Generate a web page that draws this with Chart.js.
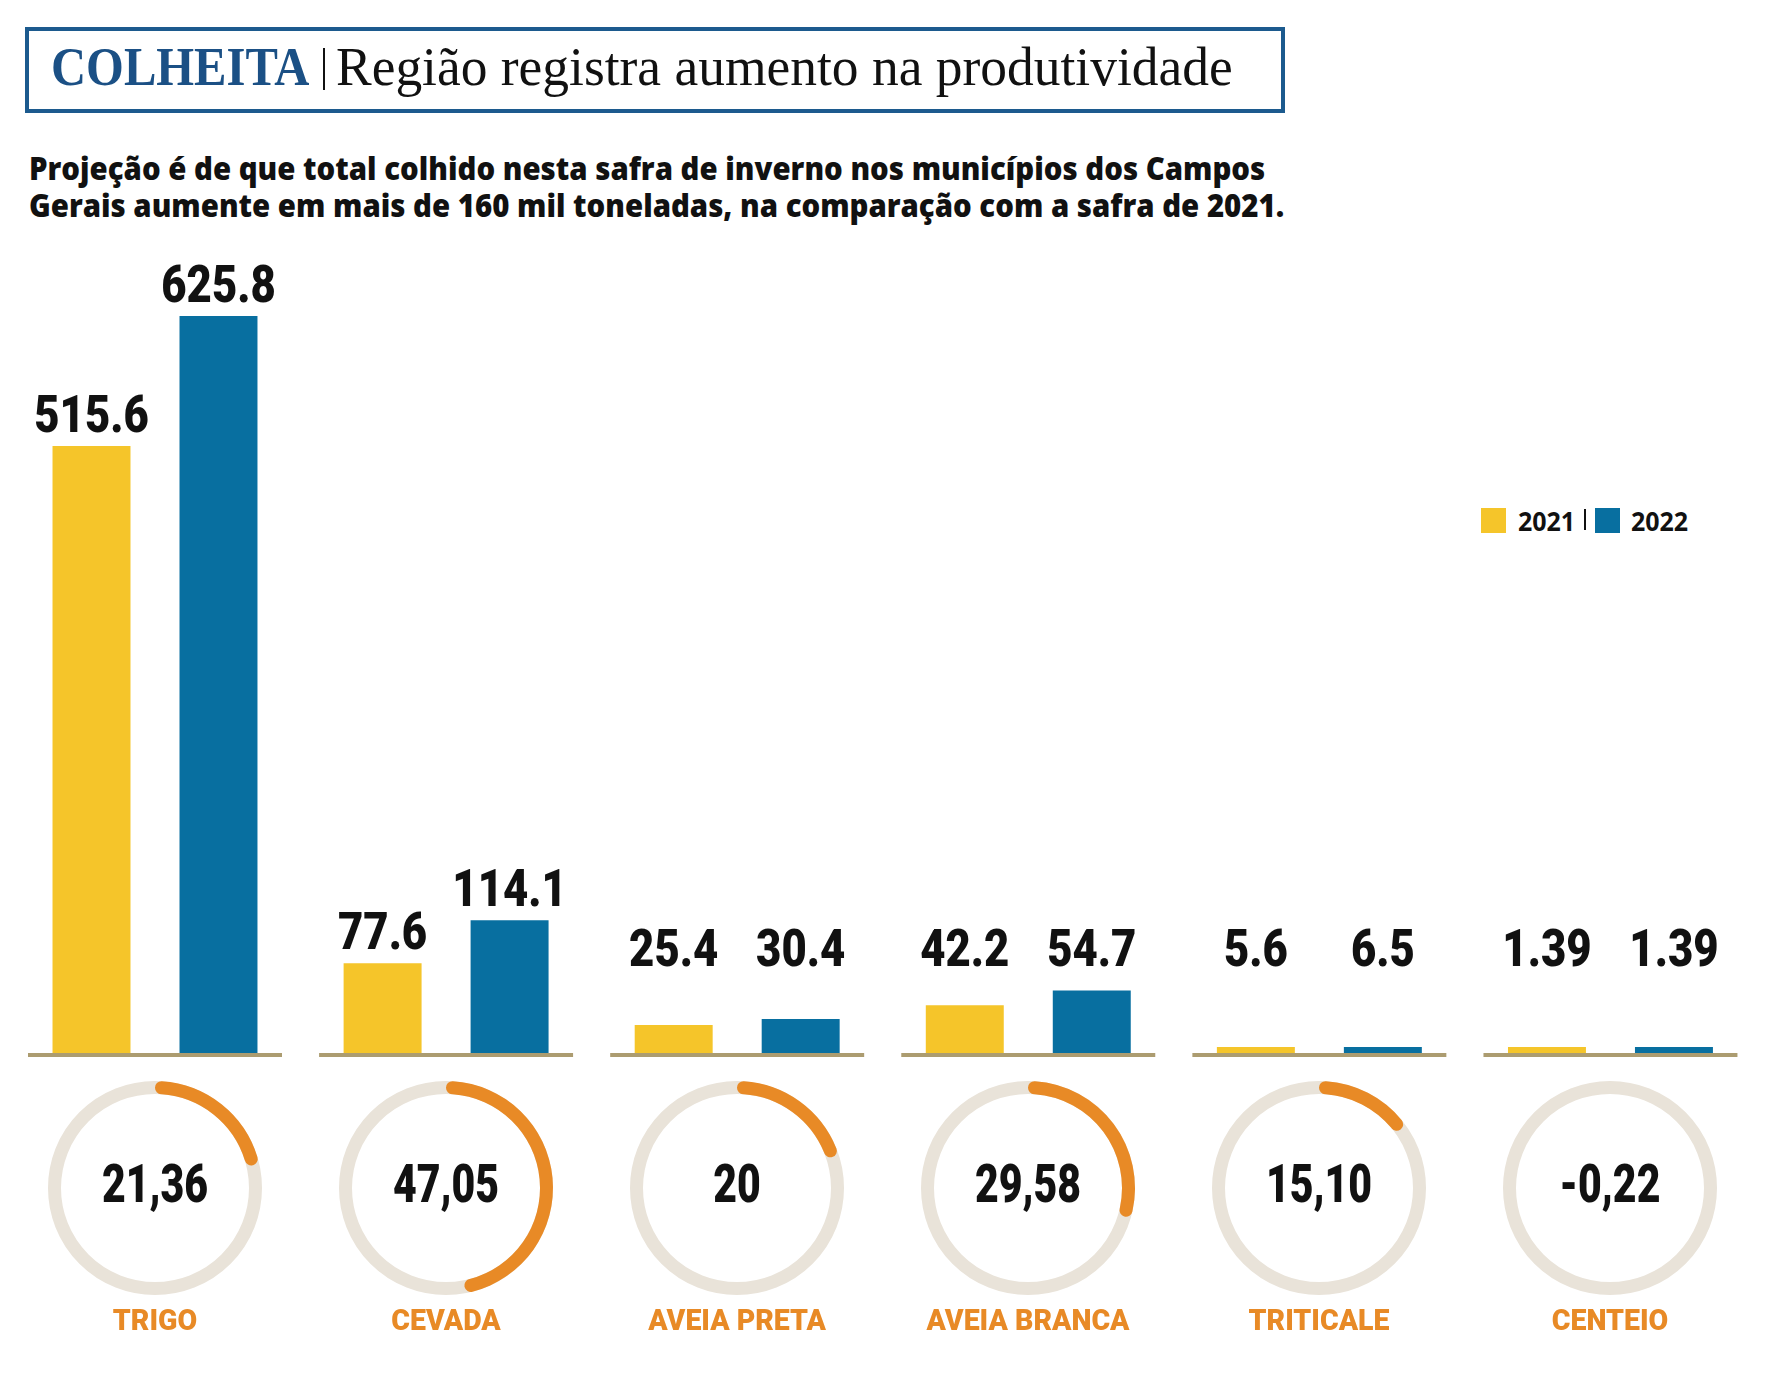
<!DOCTYPE html>
<html lang="pt-BR">
<head>
  <meta charset="UTF-8" />
  <title>Colheita - Campos Gerais</title>
  <script src="https://cdn.jsdelivr.net/npm/chart.js"></script>
  <style>
    body {
      margin: 0;
      background: #fff;
    }

    #pagina {
      position: relative;
      width: 1771px;
      height: 1384px;
      overflow: hidden;
      background: #fff;
      color: #111;
    }

    .caixa-titulo {
      position: absolute;
      left: 25px;
      top: 27px;
      width: 1252px;
      height: 78px;
      border: 4px solid #1c5a8e;
    }

    .titulo {
      position: absolute;
      top: 40px;
      font-family: "Liberation Serif", serif;
      font-size: 54px;
      line-height: 54px;
      white-space: nowrap;
      transform-origin: left top;
    }

    #chapeu {
      left: 51px;
      font-weight: bold;
      color: #1b5085;
      transform: scaleX(0.9);
    }

    #manchete {
      left: 336px;
      transform: scaleX(0.99);
    }

    .barra-titulo {
      position: absolute;
      left: 323px;
      top: 48px;
      width: 2px;
      height: 42px;
      background: #111;
    }

    .linha-sub {
      position: absolute;
      left: 29px;
      font-family: "Open Sans", sans-serif;
      font-weight: 800;
      font-size: 32px;
      line-height: 37px;
      white-space: nowrap;
      transform-origin: left top;
      transform: scaleX(0.918);
    }

    .legenda {
      position: absolute;
      top: 508px;
      font-family: "Open Sans", sans-serif;
      font-weight: bold;
      font-size: 26px;
      line-height: 26px;
      transform: scaleX(0.96);
      transform-origin: left top;
    }

    .quadro {
      position: absolute;
      top: 508px;
      width: 25px;
      height: 25px;
    }

    canvas {
      position: absolute;
    }
  </style>
</head>
<body>
<div id="pagina">
  <div class="caixa-titulo"></div>
  <div class="titulo" id="chapeu"></div>
  <div class="barra-titulo"></div>
  <div class="titulo" id="manchete"></div>

  <div class="linha-sub" id="sub1" style="top:149px"></div>
  <div class="linha-sub" id="sub2" style="top:186px"></div>

  <div id="legenda"></div>

  <canvas id="barras" width="1771" height="840" style="left:0;top:230px"></canvas>
</div>

<script>
  // dados (mil toneladas)
  const categorias = ['TRIGO', 'CEVADA', 'AVEIA PRETA', 'AVEIA BRANCA', 'TRITICALE', 'CENTEIO'];
  const anos = ['2021', '2022'];
  const safra2021 = [515.6, 77.6, 25.4, 42.2, 5.6, 1.39];
  const safra2022 = [625.8, 114.1, 30.4, 54.7, 6.5, 1.39];
  // variação em %
  const variacao = [21.36, 47.05, 20, 29.58, 15.10, -0.22];
  const variacaoTexto = ['21,36', '47,05', '20', '29,58', '15,10', '-0,22'];

  const chapeu = 'COLHEITA';
  const manchete = 'Região registra aumento na produtividade';
  const subtitulo = [
    'Projeção é de que total colhido nesta safra de inverno nos municípios dos Campos',
    'Gerais aumente em mais de 160 mil toneladas, na comparação com a safra de 2021.'
  ];

  const AMARELO = '#f5c52a';
  const AZUL = '#086fa0';
  const LARANJA = '#e88a26';
  const BEGE = '#e9e3d9';
  const LINHA = '#ac9c70';

  document.getElementById('chapeu').textContent = chapeu;
  document.getElementById('manchete').textContent = manchete;
  document.getElementById('sub1').textContent = subtitulo[0];
  document.getElementById('sub2').textContent = subtitulo[1];

  // legenda
  const leg = document.getElementById('legenda');
  leg.innerHTML =
    `<div class="quadro" style="left:1481px;background:${AMARELO}"></div>` +
    `<div class="legenda" style="left:1518px">${anos[0]}</div>` +
    `<div style="position:absolute;left:1584px;top:509px;width:2px;height:21px;background:#111"></div>` +
    `<div class="quadro" style="left:1595px;background:${AZUL}"></div>` +
    `<div class="legenda" style="left:1631px">${anos[1]}</div>`;

  // texto estreitado no canvas
  function textoEstreito(ctx, txt, x, y, sx) {
    ctx.save();
    ctx.translate(x, y);
    ctx.scale(sx, 1);
    ctx.fillText(txt, 0, 0);
    ctx.restore();
  }

  // linha de base de cada grupo + rótulos de valor
  const extrasBarras = {
    id: 'extrasBarras',
    afterDatasetsDraw(chart) {
      const ctx = chart.ctx;
      const x = chart.scales.x;
      const y0 = chart.scales.y.getPixelForValue(0);
      const larguraCat = x.width / chart.data.labels.length;
      const meio = larguraCat * chart.data.datasets[0].categoryPercentage / 2;

      ctx.save();
      ctx.fillStyle = LINHA;
      chart.data.labels.forEach((_, i) => {
        const cx = x.getPixelForValue(i);
        ctx.fillRect(cx - meio, y0 - 2, meio * 2, 4);
      });

      ctx.fillStyle = '#111';
      ctx.font = '900 52px Roboto';
      ctx.textAlign = 'center';
      ctx.textBaseline = 'alphabetic';
      chart.data.datasets.forEach((ds, d) => {
        chart.getDatasetMeta(d).data.forEach((barra, i) => {
          const y = Math.min(barra.y - 14, y0 - 89);
          textoEstreito(ctx, String(ds.data[i]), barra.x, y, 0.84);
        });
      });
      ctx.restore();
    }
  };

  const graficoBarras = new Chart(document.getElementById('barras'), {
    type: 'bar',
    data: {
      labels: categorias,
      datasets: [
        {
          label: anos[0],
          data: safra2021,
          backgroundColor: AMARELO,
          borderWidth: 0,
          categoryPercentage: 0.8725,
          barPercentage: 0.614,
          minBarLength: 8
        },
        {
          label: anos[1],
          data: safra2022,
          backgroundColor: AZUL,
          borderWidth: 0,
          categoryPercentage: 0.8725,
          barPercentage: 0.614,
          minBarLength: 8
        }
      ]
    },
    options: {
      responsive: false,
      animation: false,
      events: [],
      layout: { padding: { top: 57.4, bottom: 15, left: 9.45, right: 15 } },
      scales: {
        x: { display: false },
        y: { display: false, min: 0, max: 650 }
      },
      plugins: {
        legend: { display: false },
        tooltip: { enabled: false }
      }
    },
    plugins: [extrasBarras]
  });

  // anéis de variação
  const anel = {
    id: 'anel',
    beforeDatasetsDraw(chart) {
      const arco = chart.getDatasetMeta(0).data[0];
      const { x, y, innerRadius, outerRadius } = arco;
      const ctx = chart.ctx;
      ctx.save();
      ctx.beginPath();
      ctx.arc(x, y, (innerRadius + outerRadius) / 2, 0, Math.PI * 2);
      ctx.lineWidth = outerRadius - innerRadius;
      ctx.strokeStyle = BEGE;
      ctx.stroke();
      ctx.restore();
    },
    afterDraw(chart, args, opts) {
      const arco = chart.getDatasetMeta(0).data[0];
      const ctx = chart.ctx;
      ctx.save();
      ctx.textAlign = 'center';
      ctx.textBaseline = 'alphabetic';
      ctx.fillStyle = '#111';
      ctx.font = '900 54px Roboto';
      textoEstreito(ctx, opts.texto, arco.x, arco.y + 14, 0.76);
      ctx.fillStyle = LARANJA;
      ctx.font = '900 30px Roboto';
      textoEstreito(ctx, opts.rotulo, arco.x, arco.y + 142, 0.95);
      ctx.restore();
    }
  };

  const pagina = document.getElementById('pagina');
  categorias.forEach((cat, i) => {
    const cx = graficoBarras.scales.x.getPixelForValue(i);
    const cv = document.createElement('canvas');
    cv.width = 280;
    cv.height = 290;
    cv.style.left = (cx - 140) + 'px';
    cv.style.top = '1070px';
    pagina.appendChild(cv);

    const v = Math.max(variacao[i], 0);
    new Chart(cv, {
      type: 'doughnut',
      data: {
        labels: ['variação', ''],
        datasets: [{
          data: [v, 100 - v],
          backgroundColor: [LARANJA, 'rgba(0,0,0,0)'],
          borderWidth: 0,
          hoverBorderWidth: 0,
          offset: 0,
          hoverOffset: 0,
          borderRadius: 6.5
        }]
      },
      options: {
        responsive: false,
        animation: false,
        events: [],
        cutout: 94,
        layout: { padding: { top: 11, bottom: 65, left: 33, right: 33 } },
        plugins: {
          legend: { display: false },
          tooltip: { enabled: false },
          anel: { texto: variacaoTexto[i], rotulo: cat }
        }
      },
      plugins: [anel]
    });
  });
</script>
</body>
</html>
